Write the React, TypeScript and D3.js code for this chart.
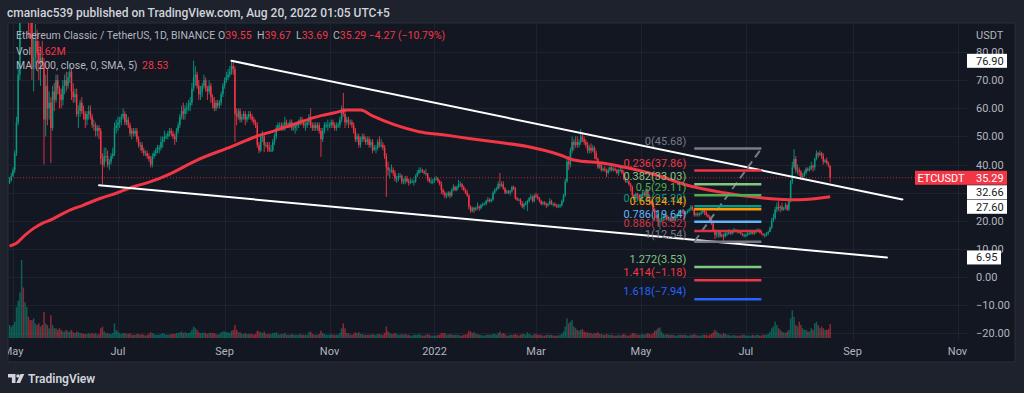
import * as d3 from 'd3';

// ETC/USDT daily, one row per month (first row starts Apr 29 2021)
const monthStarts = [
  '2021-04-29', '2021-05-01', '2021-06-01', '2021-07-01', '2021-08-01', '2021-09-01', '2021-10-01',
  '2021-11-01', '2021-12-01', '2022-01-01', '2022-02-01', '2022-03-01', '2022-04-01', '2022-05-01',
  '2022-06-01', '2022-07-01', '2022-08-01',
];
const firstOpen = 33.5;

const closes = [
  [34.5, 36],
  [38, 44, 55, 72, 96, 110, 102, 105, 112, 95, 92, 74, 78, 84, 80, 76, 78, 76, 56, 68, 60, 62, 53, 66, 63, 70, 67, 65, 63, 68, 70],
  [68, 71, 73, 66, 64, 65, 58, 59, 62, 59, 58, 56, 58, 59, 57, 54, 54, 52, 53, 52, 42, 40, 43, 43, 40, 41, 43, 44, 53, 54],
  [55, 56, 57, 58, 55, 56, 54, 51, 52, 51, 52, 49, 47, 47, 45, 44, 44, 43, 42, 40, 43, 44, 45, 46, 46, 48, 49, 50, 50, 51, 52],
  [51, 50, 49, 52, 54, 57, 59, 58, 60, 60, 61, 62, 67, 71, 72, 68, 65, 66, 68, 70, 67, 66, 68, 64, 62, 60, 62, 61, 62, 65, 68],
  [70, 71, 72, 73, 75, 74, 58, 57, 59, 56, 57, 58, 56, 57, 58, 57, 56, 55, 54, 47, 45, 50, 50, 47, 47, 46, 45, 45, 48, 50],
  [53, 54, 54, 53, 54, 55, 54, 54, 55, 53, 53, 54, 54, 55, 56, 55, 54, 54, 55, 57, 54, 53, 54, 53, 54, 52, 49, 52, 54, 54, 54],
  [54, 55, 54, 53, 54, 54, 56, 60, 58, 55, 56, 55, 55, 54, 52, 49, 50, 47, 49, 50, 49, 48, 49, 47, 48, 45, 46, 46, 48, 47],
  [47, 46, 43, 39, 38, 38, 38, 37, 35, 35, 36, 36, 34, 34, 35, 34, 33.5, 34, 34, 34, 36, 37, 38, 38, 37.5, 37, 37, 35, 34, 34, 34],
  [35, 35, 34, 33, 31, 30, 29, 29, 30, 29, 31, 32, 31, 32, 33, 33, 32, 31, 30, 29, 25, 23.5, 24.5, 24, 24.5, 25, 24.5, 25.5, 26, 26, 27],
  [27.5, 27, 27.5, 30, 31, 31.5, 33, 32.5, 33, 31.5, 30, 30.5, 30, 30.5, 32, 31.5, 28, 27.5, 27.5, 26, 25, 26, 26, 27, 28, 28.5, 27, 29],
  [28.5, 28, 27, 26, 26.5, 26, 25.5, 26, 27, 26, 26, 25.5, 25, 25.5, 25.5, 27, 29, 34, 41, 40, 45, 48, 47, 48, 47, 48, 50, 49, 48, 47, 45],
  [46, 45, 46, 44, 42, 39, 40, 38, 38.5, 38, 37, 38, 39, 38, 38.5, 38, 37, 38, 38, 37, 35, 34, 34, 33, 32, 29, 28, 29.5, 29, 27.5],
  [29, 30, 29, 31, 28, 27, 26, 24, 21, 22, 19.5, 20, 21, 21.5, 22, 20.5, 21, 20, 21, 20.5, 21, 22, 23, 23.5, 23, 22.5, 23, 23.5, 24, 25, 24],
  [22, 22.5, 22, 22.5, 23, 23.5, 23, 22, 21.5, 20.5, 19, 16.5, 15, 15.5, 16, 14.5, 15, 14.5, 15.5, 15.5, 16, 15.5, 16, 16.5, 16.5, 16, 16, 15.5, 15, 15],
  [15, 15.5, 15.5, 16, 15.5, 16, 16.5, 16.5, 16, 15.5, 15, 15, 15.5, 16, 17.5, 20, 21, 24, 25, 24.5, 25, 24, 24.5, 25.5, 24, 27, 34, 39, 42, 38, 38],
  [37.5, 35.5, 36, 37, 38.5, 38, 38.5, 39.5, 39, 42, 44, 43.5, 44, 43, 41, 41.5, 40.5, 39.55, 35.29],
];

const highs = [
  [35.5, 37],
  [39, 45, 57, 75, 100, 176, 118, 112, 120, 116, 100, 96, 85, 90, 88, 84, 82, 84, 78, 72, 74, 66, 64, 68, 69, 72, 72, 68, 67, 70, 72],
  [73, 73, 76, 74, 69, 67, 67, 61, 63, 64, 61, 59, 59, 61, 61, 58, 56, 55, 54, 54, 53, 44, 46, 46, 45, 42, 44, 46, 55, 56],
  [57, 57, 58, 60, 59, 58, 57, 55, 53, 53, 53, 53, 50, 48, 48, 46, 45, 45, 44, 43, 44, 45, 46, 47, 47, 50, 50, 52, 51, 52, 53],
  [53, 52, 51, 53, 55, 58, 61, 62, 61, 62, 63, 64, 69, 77, 75, 73, 70, 68, 69, 72, 71, 68, 70, 69, 65, 64, 63, 63, 63, 66, 69],
  [71, 73, 74, 75, 77.2, 77, 75, 60, 60, 60, 58, 59, 59, 58, 59, 59, 58, 57, 56, 55, 48, 51, 52, 51, 48, 48, 48, 47, 49, 51],
  [54, 55, 55, 55, 55, 57, 56, 55, 56, 56, 54, 55, 55, 56, 57, 57, 56, 55, 56, 58, 60, 55, 55, 55, 55, 55, 53, 53, 55, 55, 56],
  [55, 56, 56, 55, 55, 55, 57, 61, 65.5, 60, 57, 57, 56, 56, 55, 53, 51, 51, 50, 51, 51, 50, 50, 50, 49, 49, 47, 47, 49, 50],
  [49, 48, 47, 44, 41, 39, 40, 39, 38, 36, 37, 37, 36.5, 35, 36, 36, 35, 35, 35, 34.5, 36.5, 38, 39, 39, 38.5, 38, 38.5, 37, 35.5, 35, 35],
  [35.5, 36, 35.5, 34.5, 34, 31.5, 30.5, 30, 30.5, 30.5, 31.5, 33, 32.5, 32.5, 34.5, 34, 33.5, 32.5, 31.5, 31, 29.5, 25.5, 25, 25, 25, 26.5, 25.5, 26, 26.5, 26.5, 27.5],
  [28.5, 28, 28, 30.5, 31.5, 32, 34, 37, 34, 34, 32, 31, 31, 31, 32.5, 32.5, 32, 28.5, 28, 28, 27, 26.5, 27, 27.5, 28.5, 29.5, 29, 29.5],
  [30, 29.5, 28.5, 27.5, 27, 27, 26.5, 26.5, 28, 27.5, 26.5, 26.5, 26, 26, 26, 27.5, 29.5, 35, 42, 43, 46, 50, 49, 50, 50, 49, 52.6, 51.5, 50, 49, 48],
  [47, 47.5, 47, 46.5, 45, 42.5, 40.5, 40.5, 39, 39.5, 38.5, 39, 39.5, 39.5, 39, 39, 38.5, 38.5, 39, 39, 38, 35.5, 34.5, 34.5, 33.5, 32.5, 29.5, 30, 30, 29.5],
  [29.5, 31, 30.5, 31.5, 31.5, 28.5, 27.5, 26.5, 24.5, 23.5, 22.5, 21, 22.5, 22, 22.5, 22, 21.5, 21.5, 21.5, 21.5, 21.5, 22.5, 24, 24, 24, 23.5, 23.5, 24, 24.5, 25.6, 25.5],
  [24.5, 23, 23, 23, 23.5, 24.5, 24, 23.5, 22.5, 22, 21, 19.5, 17, 16.5, 16.5, 16.5, 15.5, 15.5, 16, 16, 17, 16.5, 16.5, 17.5, 17, 17, 16.5, 16.5, 15.5, 15.5],
  [15.5, 16, 16, 16.5, 16.5, 16.5, 17, 17.4, 17, 16.5, 15.5, 15.5, 16, 16.5, 18, 21, 22.5, 25, 26.5, 27, 25.5, 26.5, 25, 26.5, 26, 27.5, 34.5, 41, 45.5, 43, 40],
  [39, 38, 37, 38, 39, 39, 39.5, 41, 40, 42.5, 45, 44.5, 45, 44.5, 44, 42, 42.5, 41, 39.67],
];

const lows = [
  [33, 34],
  [35.5, 37, 43, 54, 70, 92, 95, 98, 100, 85, 85, 70, 66, 76, 74, 70, 68, 74, 40, 50, 54, 56, 40.5, 52, 59, 62, 65, 60, 60, 61, 65],
  [66, 67, 69, 63, 62, 62, 57, 53, 57, 58, 56, 53, 54, 56, 56, 53, 52, 50, 50, 49, 40, 33, 39, 41, 39, 38, 40, 42, 43, 51],
  [52, 53, 54, 56, 54, 54, 53, 50, 49, 50, 50, 48, 46, 45, 44, 43, 43, 42, 41, 39, 39, 42, 43, 44, 44, 45, 46, 48, 49, 49, 50],
  [50, 49, 47, 48, 51, 53, 56, 56, 56, 58, 59, 59, 61, 66, 68, 67, 63, 63, 64, 67, 66, 63, 65, 62, 60, 59, 59, 60, 60, 61, 64],
  [67, 69, 70, 71, 72, 72, 48, 54, 56, 55, 55, 56, 54, 55, 56, 56, 55, 54, 53, 46, 44, 44.5, 48, 44.5, 46, 44.5, 44.5, 44.5, 44.5, 47],
  [49, 52, 53, 52, 52, 52, 53, 53, 53, 52, 52, 51, 52, 53, 54, 54, 53, 52, 53, 54, 53, 52, 52, 52, 52, 51, 42.7, 48, 51, 53, 52],
  [53, 53, 53, 52, 52, 53, 53, 55, 57, 53, 54, 53, 54, 53, 51, 48, 48, 46, 46, 48, 48, 47, 47, 46, 46, 44, 45, 44, 45, 46],
  [46, 45, 42, 28.5, 36, 35, 37, 36, 34, 33.5, 34, 35, 33, 33, 33, 33.5, 32.5, 33, 33.5, 32.5, 33.5, 35.5, 36.5, 37, 37, 36.5, 36, 34, 33.5, 33, 33],
  [33.5, 34.5, 33.5, 32.5, 29.5, 29, 28, 28, 28.5, 28, 28.5, 30.5, 30.5, 30.5, 31.5, 32, 31, 30.5, 29.5, 28.5, 24, 22.8, 23, 22.8, 23.5, 24, 23.5, 24, 25, 25.5, 25.5],
  [26.5, 26.5, 26.5, 27, 29.5, 30.5, 31, 31.5, 32, 31, 29.5, 29.5, 29.5, 29, 30, 31, 27.5, 27, 27, 25.5, 24.5, 24, 25.5, 23.5, 26.5, 27.5, 26.5, 26.5],
  [28, 27.5, 26.5, 25.5, 25.5, 25.5, 24.5, 25, 25.5, 25.5, 25, 25, 24.5, 24.5, 24.5, 25, 26.5, 28.5, 33.5, 38, 39, 44, 45, 46, 46, 46, 47, 48, 47, 46, 44],
  [44, 44, 44.5, 42, 41.5, 38.5, 38.5, 37.5, 37.5, 37.5, 35.5, 36.5, 37.5, 37.5, 37.5, 37.5, 36.5, 36, 37.5, 36.5, 34.5, 33.5, 33.5, 32.5, 30.5, 28.5, 27.5, 27.5, 28, 27],
  [27, 28.5, 28.5, 28.5, 27.5, 26, 25.5, 23.5, 20, 20.5, 18, 16.8, 19.5, 20, 20.5, 20, 20, 19.5, 19.5, 20, 20, 20.5, 21.5, 22.5, 22.5, 21, 22, 22.5, 23, 23.5, 23.5],
  [21.5, 21.5, 21.5, 21.5, 22, 22.5, 22, 21.5, 21, 20, 18.5, 16, 13.5, 14, 14, 14, 14, 12.54, 14, 14.5, 15, 15, 15, 15.5, 16, 15.5, 15.5, 15, 14.5, 14],
  [14.2, 14.5, 15, 15, 15, 15, 15.5, 16, 15.5, 15, 14.5, 14, 14.5, 15, 16, 17, 19.5, 20.5, 23, 23.5, 23, 23.5, 23.5, 24, 23.5, 23.5, 26.5, 33, 38.5, 37, 36.5],
  [36, 34.5, 35, 35.5, 36.5, 37.5, 37.5, 38, 37.5, 38, 41.5, 42.5, 43, 42, 40, 40.5, 40, 39, 33.69],
];

// volume, millions of ETC
const volumes = [
  [8, 7],
  [8, 10, 19, 23, 28, 48, 31, 22, 19, 13, 11, 11, 12, 9, 8, 9, 7, 8, 16, 9, 8, 6, 14, 8, 6, 6, 5, 6, 5, 4, 4],
  [5, 4, 4, 5, 3.5, 3, 4, 3.5, 3, 3, 2.5, 2.5, 2.5, 3, 2.5, 3, 2.5, 3, 2, 2.5, 6, 7, 4, 3, 3, 2.5, 2.5, 3, 9, 5],
  [4, 3, 2.5, 3, 3, 2.5, 2.5, 3, 2, 2, 2, 2.5, 2.5, 2, 2.5, 2, 1.5, 2, 2.5, 3.5, 3, 2.5, 2, 2, 2, 2.5, 3, 2.5, 2, 2, 2],
  [2.5, 2.5, 2.5, 3, 3, 3.5, 4, 3, 3.5, 3, 3, 3.5, 5, 7, 6, 5, 3.5, 3, 3, 3.5, 3, 2.5, 3, 3, 3, 3, 2.5, 2, 2.5, 3.5, 4],
  [4, 3.5, 3.5, 3, 4.5, 5, 8, 5, 3.5, 3.5, 2.5, 2.5, 3, 2.5, 2.5, 2.5, 2.5, 2, 2.5, 4.5, 4, 3.5, 3, 4, 2.5, 2.5, 2.5, 2.5, 3, 3],
  [3.5, 2.5, 2, 2.5, 2.5, 3, 2, 2, 2, 2.5, 2, 2, 2, 2, 2.5, 2, 2, 2, 2, 3.5, 4, 2.5, 2, 2, 2, 2.5, 4.5, 3, 2.5, 2, 2],
  [2, 2.5, 2, 2, 2, 2, 3, 6, 9, 6, 3, 3, 2, 2, 2.5, 3.5, 3, 3.5, 2.5, 2.5, 2, 2, 2, 2, 2, 2.5, 2, 2, 2.5, 2.5],
  [2, 2, 3, 7, 4, 3, 2.5, 2.5, 3, 2.5, 2, 2, 2.5, 2, 2.5, 2, 2, 1.5, 1.5, 2, 2, 2, 2.5, 2, 1.5, 1.5, 2, 2.5, 2, 1.5, 1.5],
  [1.5, 1.5, 2, 2, 3, 3, 3, 2, 2, 2.5, 2, 2, 2, 2, 2, 1.5, 1.5, 2, 2, 2.5, 4.5, 4, 3, 3.5, 2.5, 2.5, 2, 2, 1.5, 1.5, 2],
  [2, 2, 2, 2.5, 2.5, 2, 3, 4, 2.5, 3, 2.5, 1.5, 1.5, 2, 2, 2, 2.5, 2, 1.5, 2, 2.5, 2.5, 2, 3.5, 2.5, 2, 1.5, 2.5],
  [2.5, 2, 2, 2, 1.5, 1.5, 2, 2, 2, 2, 1.5, 1.5, 1.5, 1.5, 2, 2.5, 4, 7, 12, 9, 10, 11, 7, 6, 5, 4.5, 5, 5.5, 4, 3.5, 3.5],
  [3, 3, 2.5, 3, 3, 3.5, 2.5, 2.5, 2, 2, 2.5, 2, 2, 2, 1.5, 1.5, 1.5, 2, 1.5, 2, 2.5, 2, 1.5, 1.5, 2, 3, 3, 2.5, 2, 2],
  [2, 2.5, 2, 2.5, 3, 2.5, 2, 3, 4.5, 5, 6, 6.5, 4, 2.5, 2, 2.5, 2, 2, 2, 2, 1.5, 1.5, 2, 2, 2, 2, 2, 1.5, 1.5, 2, 2],
  [2.5, 2, 1.5, 1.5, 1.5, 2, 2, 2, 1.5, 2, 2.5, 3.5, 5, 4, 3, 2.5, 2, 3, 2.5, 2, 2, 1.5, 1.5, 2, 1.5, 1.5, 1.5, 1.5, 2, 2],
  [1.5, 1.5, 1.5, 1.5, 2, 1.5, 2, 2, 1.5, 1.5, 2, 2, 2, 2.5, 4, 6, 7, 10, 8, 6, 5, 4, 3.5, 3, 4, 5, 12, 17, 13, 8, 7],
  [10, 8, 6, 5, 5, 4, 4, 6, 5, 9, 10, 8, 6, 7, 6, 5, 5, 5.5, 8.62],
];

// MA(200)
const maPoints: [string, number][] = [
  ['2021-04-29', 11], ['2021-05-03', 12], ['2021-05-08', 14.9], ['2021-05-13', 17.3], ['2021-05-18', 19.1],
  ['2021-05-23', 20.3], ['2021-06-01', 23.2], ['2021-06-11', 25.6], ['2021-06-21', 28], ['2021-06-30', 29.8],
  ['2021-07-10', 32.1], ['2021-07-20', 33.9], ['2021-07-31', 36.6], ['2021-08-16', 41.6], ['2021-09-05', 46.4],
  ['2021-09-19', 49.9], ['2021-09-30', 52], ['2021-10-13', 54.7], ['2021-10-27', 57.4], ['2021-11-04', 58.4],
  ['2021-11-11', 59.4], ['2021-11-19', 59.4], ['2021-11-26', 57.3], ['2021-12-09', 54.1], ['2021-12-23', 51.7],
  ['2022-01-07', 50.5], ['2022-01-21', 49.3], ['2022-02-07', 47.9], ['2022-02-24', 46.4], ['2022-03-15', 43.4],
  ['2022-03-23', 41.6], ['2022-04-10', 40.4], ['2022-04-27', 38.3], ['2022-05-14', 35.5], ['2022-05-26', 33],
  ['2022-06-18', 30], ['2022-07-11', 28.1], ['2022-07-20', 27.7], ['2022-08-01', 27.5], ['2022-08-19', 28.53],
];

const upperTrend: [string, number][] = [['2021-09-05', 76.9], ['2022-09-30', 27.6]];
const lowerTrend: [string, number][] = [['2021-06-20', 32.66], ['2022-09-21', 6.95]];

const fibLevels = ['0', '0.236', '0.382', '0.5', '0.618', '0.65', '0.786', '0.886', '1', '1.272', '1.414', '1.618'];
const fibPrices = [45.68, 37.86, 33.03, 29.11, 25.2, 24.14, 19.64, 16.32, 12.54, 3.53, -1.18, -7.94];
const fibColors = ['#787b86', '#f23645', '#81c784', '#4caf50', '#089981', '#ff9800', '#64b5f6', '#d33642', '#787b86', '#81c784', '#f23645', '#2962ff'];
const fibSpan: [string, string] = ['2022-06-01', '2022-07-10'];

const priceTicks = [80, 70, 60, 50, 40, 30, 20, 10, 0, -10, -20];
const timeTicks: [string, string][] = [
  ['2021-05-01', 'May'], ['2021-07-01', 'Jul'], ['2021-09-01', 'Sep'], ['2021-11-01', 'Nov'], ['2022-01-01', '2022'],
  ['2022-03-01', 'Mar'], ['2022-05-01', 'May'], ['2022-07-01', 'Jul'], ['2022-09-01', 'Sep'], ['2022-11-01', 'Nov'],
];
const axisMarks = [
  { value: 76.9, red: false }, { value: 35.29, red: true }, { value: 32.66, red: false },
  { value: 27.6, red: false }, { value: 6.95, red: false },
];

const FONT = "Roboto, 'Liberation Sans', Arial, sans-serif";
const UP = '#089981';
const DOWN = '#f23645';

const utc = (s: string) => {
  const [a, b, c] = s.split('-').map(Number);
  return new Date(Date.UTC(a, b - 1, c));
};

type Candle = { date: Date; o: number; h: number; l: number; c: number; v: number };

function buildCandles(): Candle[] {
  const out: Candle[] = [];
  let prev = firstOpen;
  monthStarts.forEach((start, m) => {
    const d0 = utc(start);
    closes[m].forEach((c, j) => {
      const o = prev;
      out.push({
        date: d3.utcDay.offset(d0, j),
        o,
        c,
        h: Math.max(highs[m][j], o, c),
        l: Math.min(lows[m][j], o, c),
        v: volumes[m][j],
      });
      prev = c;
    });
  });
  return out;
}

export default function App() {
  const W = 1024;
  const H = 393;
  const pane = { l: 8, r: 967, t: 23, b: 340 };

  const candles = buildCandles();
  const x = d3.scaleUtc().domain([utc('2021-05-01'), utc('2022-11-01')]).range([13, 957.5]);
  const y = d3.scaleLinear().domain([0, 80]).range([277, 52.1]);
  const vy = d3.scaleLinear().domain([0, 48]).range([338, 260]);

  const maLine = d3
    .line<[string, number]>()
    .x(d => x(utc(d[0])))
    .y(d => y(d[1]))
    .curve(d3.curveMonotoneX);

  const fx0 = x(utc(fibSpan[0]));
  const fx1 = x(utc(fibSpan[1]));

  // stack the axis labels so they don't overlap
  const marks = axisMarks
    .map(m => ({ ...m, cy: y(m.value) }))
    .sort((a, b) => a.cy - b.cy);
  for (let i = 1; i < marks.length; i++) {
    if (marks[i].cy < marks[i - 1].cy + 14.5) marks[i].cy = marks[i - 1].cy + 14.5;
  }
  const lastClose = axisMarks.find(m => m.red)!.value;

  const trend = (pts: [string, number][]) => (
    <line
      x1={x(utc(pts[0][0]))}
      y1={y(pts[0][1])}
      x2={x(utc(pts[1][0]))}
      y2={y(pts[1][1])}
      stroke="#ffffff"
      strokeWidth={2}
      strokeLinecap="round"
    />
  );

  return (
    <svg width={W} height={H} style={{ position: 'absolute', left: 0, top: 0, display: 'block' }} fontFamily={FONT}>
      <defs>
        <clipPath id="pane">
          <rect x={pane.l} y={pane.t} width={pane.r - pane.l} height={pane.b - pane.t} />
        </clipPath>
        <clipPath id="timeaxis">
          <rect x={pane.l} y={pane.b} width={pane.r - pane.l} height={22} />
        </clipPath>
      </defs>
      <rect width={W} height={H} fill="#1e222d" />
      <text x={7} y={17} fill="#d1d4dc" fontSize={12} fontWeight={500}>
        cmaniac539 published on TradingView.com, Aug 20, 2022 01:05 UTC+5
      </text>
      <rect x={8} y={23} width={1007} height={339} fill="#131722" stroke="#2a2e39" strokeWidth={1} />

      {/* grid */}
      <g stroke="#1f2330" strokeWidth={1}>
        {priceTicks.map(t => (
          <line key={t} x1={pane.l} x2={pane.r} y1={Math.round(y(t)) + 0.5} y2={Math.round(y(t)) + 0.5} />
        ))}
        {timeTicks.map(([d]) => (
          <line key={d} x1={Math.round(x(utc(d))) + 0.5} x2={Math.round(x(utc(d))) + 0.5} y1={pane.t} y2={pane.b} />
        ))}
      </g>

      <g clipPath="url(#pane)">
        {/* volume */}
        <g>
          {candles.map((d, i) => (
            <rect
              key={i}
              x={x(d.date) - 0.75}
              y={vy(d.v)}
              width={1.5}
              height={vy(0) - vy(d.v)}
              fill={d.c >= d.o ? UP : DOWN}
              opacity={0.55}
            />
          ))}
        </g>
        {/* candles */}
        <g>
          {candles.map((d, i) => {
            const col = d.c >= d.o ? UP : DOWN;
            const cx = x(d.date);
            const top = y(Math.max(d.o, d.c));
            const bh = Math.max(1, Math.abs(y(d.o) - y(d.c)));
            return (
              <g key={i}>
                <line x1={cx} x2={cx} y1={y(d.h)} y2={y(d.l)} stroke={col} strokeWidth={0.9} />
                <rect x={cx - 0.75} y={top} width={1.5} height={bh} fill={col} />
              </g>
            );
          })}
        </g>
        <path d={maLine(maPoints) ?? ''} fill="none" stroke="#f23645" strokeWidth={3} strokeLinejoin="round" />
        <line
          x1={pane.l}
          x2={915}
          y1={y(lastClose)}
          y2={y(lastClose)}
          stroke="#f23645"
          strokeOpacity={0.7}
          strokeWidth={1}
          strokeDasharray="1 2"
        />
        {trend(upperTrend)}
        {trend(lowerTrend)}

        {/* fib retracement */}
        <line
          x1={fx0}
          y1={y(fibPrices[8])}
          x2={fx1}
          y2={y(fibPrices[0])}
          stroke="#787b86"
          strokeWidth={2}
          strokeDasharray="8 5"
        />
        {fibLevels.map((lv, i) => (
          <g key={lv}>
            <line x1={fx0} x2={fx1} y1={y(fibPrices[i])} y2={y(fibPrices[i])} stroke={fibColors[i]} strokeWidth={2.5} />
            <text x={fx0 - 8} y={y(fibPrices[i]) - 4} textAnchor="end" fontSize={11} fill={fibColors[i]}>
              {`${lv}(${fibPrices[i].toFixed(2).replace('-', '\u2212')})`}
            </text>
          </g>
        ))}
      </g>

      {/* legend */}
      <g fontSize={10.5} fill="#b2b5be">
        <text x={16} y={39}>Ethereum Classic / TetherUS, 1D, BINANCE</text>
        <text x={218} y={39}>O<tspan fill="#f23645">39.55</tspan></text>
        <text x={257} y={39}>H<tspan fill="#f23645">39.67</tspan></text>
        <text x={296} y={39}>L<tspan fill="#f23645">33.69</tspan></text>
        <text x={333} y={39}>C<tspan fill="#f23645">35.29 {'\u22124.27'} ({'\u221210.79'}%)</tspan></text>
        <text x={16} y={55}>Vol</text>
        <text x={36} y={55} fill="#f23645">8.62M</text>
        <text x={16} y={69}>MA (200, close, 0, SMA, 5)</text>
        <text x={142} y={69} fill="#f23645">28.53</text>
      </g>

      {/* price axis */}
      <g fontSize={11} fill="#b2b5be">
        <text x={976} y={39}>USDT</text>
        {priceTicks.map(t => (
          <text key={t} x={976} y={y(t) + 4}>
            {t.toFixed(2).replace('-', '\u2212')}
          </text>
        ))}
      </g>
      {marks.map(m => {
        const label = m.value.toFixed(2);
        const w = label.length * 6 + 10;
        return (
          <g key={m.value} fontSize={11}>
            {m.red && (
              <g>
                <rect x={915} y={m.cy - 7} width={52} height={14} fill="#f23645" />
                <text x={941} y={m.cy + 4} textAnchor="middle" fill="#ffffff">ETCUSDT</text>
              </g>
            )}
            <rect x={967} y={m.cy - 7} width={w} height={14} fill={m.red ? '#f23645' : '#ffffff'} />
            <text x={976} y={m.cy + 4} fill={m.red ? '#ffffff' : '#131722'}>{label}</text>
          </g>
        );
      })}

      {/* time axis */}
      <g fontSize={11} fill="#b2b5be" textAnchor="middle" clipPath="url(#timeaxis)">
        {timeTicks.map(([d, lab]) => (
          <text key={d} x={x(utc(d))} y={355}>{lab}</text>
        ))}
      </g>

      {/* footer */}
      <g fill="#d1d4dc">
        <path d="M8,374 h7.5 v9 h-3.6 v-5.6 h-3.9 z" />
        <circle cx={18} cy={376} r={1.8} />
        <path d="M20.5,374 h3.8 l-4.2,9 h-3.8 z" />
        <text x={28} y={383} fontSize={12} fontWeight={600}>TradingView</text>
      </g>
    </svg>
  );
}
